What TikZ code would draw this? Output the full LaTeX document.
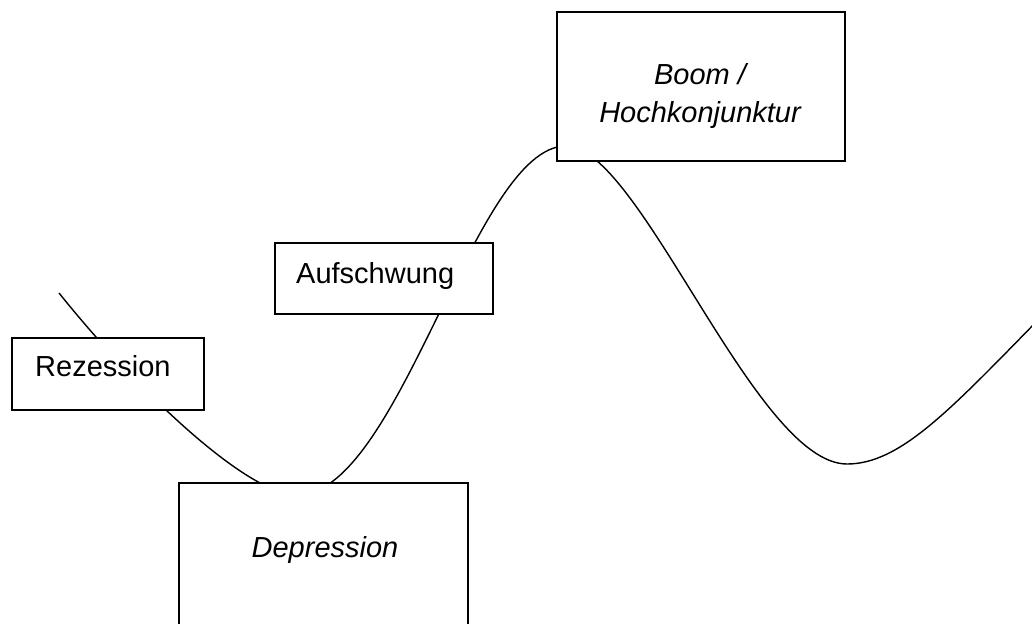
\documentclass[tikz,border=0pt]{standalone}
\usepackage{fontspec}
\setmainfont{Liberation Sans}
\begin{document}
\begin{tikzpicture}[x=1pt,y=-1pt,
  box/.style={draw=black, fill=white, line width=1.6pt, rectangle, inner sep=0pt, anchor=north west},
  lbl/.style={inner sep=0pt, font=\fontsize{29}{37.5}\selectfont},
  wave/.style={line width=1.4pt}]
\useasboundingbox (0,0) rectangle (1032,623);
\clip (0,0) rectangle (1032,623);
% business-cycle curve
\coordinate (s) at (59,293);
\coordinate (t1) at (297,495);
\coordinate (p) at (566,146);
\coordinate (t2) at (847,464);
\coordinate (e) at (1040,318);
\draw[wave] (s) .. controls (145,400) and (250,495) .. (t1)
  .. controls (400,495) and (474,146) .. (p)
  .. controls (640,146) and (755,464) .. (t2)
  .. controls (900,464) and (950,410) .. (e);
% boxes
\node[box, minimum width=192pt, minimum height=72pt] (rez) at (11,337) {};
\node[box, minimum width=218pt, minimum height=71pt] (auf) at (274,242) {};
\node[box, minimum width=288pt, minimum height=149pt] (boom) at (556,11) {};
\node[box, minimum width=289pt, minimum height=170pt] (dep) at (178,482) {};
% labels
\node[lbl, anchor=base west] (rezt) at (35,376) {Rezession};
\node[lbl, anchor=base west] (auft) at (296,283) {Aufschwung};
\node[lbl, anchor=base, align=center, font=\fontsize{29}{37.5}\selectfont\itshape] (boomt) at (700,122.5) {Boom /\\Hochkonjunktur};
\node[lbl, anchor=base, font=\fontsize{29}{37.5}\selectfont\itshape] (dept) at (325,557) {Depression};
\end{tikzpicture}
\end{document}
